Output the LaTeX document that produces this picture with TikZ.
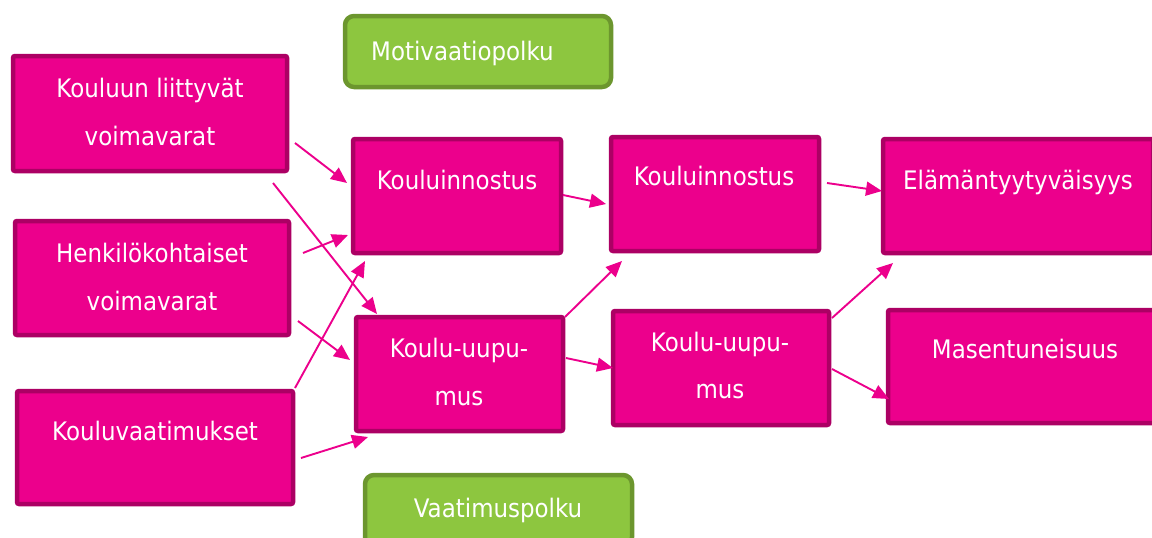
\documentclass[tikz,border=0pt]{standalone}
\usepackage{fontspec}
\setmainfont{DejaVu Sans}[FakeStretch=0.9]
\usetikzlibrary{arrows.meta}
\definecolor{pinkfill}{RGB}{236,0,140}
\definecolor{pinkedge}{RGB}{172,0,100}
\definecolor{greenfill}{RGB}{141,198,63}
\definecolor{greenedge}{RGB}{108,150,46}
\begin{document}
\begin{tikzpicture}[x=1pt,y=-1pt,
  box/.style={draw=pinkedge, fill=pinkfill, line width=4.5pt, rounded corners=2pt,
    anchor=north west, inner sep=0pt, outer sep=0pt},
  pathbox/.style={draw=greenedge, fill=greenfill, line width=4.5pt, rounded corners=9pt,
    anchor=north west, inner sep=0pt, outer sep=0pt},
  txt/.style={text=white, font=\fontsize{25.5}{30}\selectfont, anchor=base, inner sep=0pt},
  conn/.style={draw=pinkfill, line width=1.9pt, -{Triangle[length=16pt,width=14pt]}}]
\useasboundingbox (0,0) rectangle (1152,538);
\clip (0,0) rectangle (1152,538);
% path labels
\node[pathbox, minimum width=266pt, minimum height=71pt] (mot) at (345,16) {};
\node[txt, anchor=base west] (motT) at (371,60) {Motivaatiopolku};
\node[pathbox, minimum width=267pt, minimum height=71pt] (vaa) at (365,475) {};
\node[txt] (vaaT) at (498,517) {Vaatimuspolku};
% boxes
\node[box, minimum width=274pt, minimum height=115pt] (A) at (13,56) {};
\node[box, minimum width=274pt, minimum height=114pt] (B) at (15,221) {};
\node[box, minimum width=276pt, minimum height=113pt] (C) at (17,391) {};
\node[box, minimum width=208pt, minimum height=114pt] (D) at (353,139) {};
\node[box, minimum width=207pt, minimum height=114pt] (E) at (356,317) {};
\node[box, minimum width=208pt, minimum height=114pt] (F) at (611,137) {};
\node[box, minimum width=216pt, minimum height=114pt] (G) at (613,311) {};
\node[box, minimum width=270pt, minimum height=114pt] (H) at (883,139) {};
\node[box, minimum width=274pt, minimum height=113pt] (I) at (888,310) {};
% texts
\node[txt] (A1) at (150,97) {Kouluun liittyvät};
\node[txt] (A2) at (150,145) {voimavarat};
\node[txt] (B1) at (152,262) {Henkilökohtaiset};
\node[txt] (B2) at (152,310) {voimavarat};
\node[txt] (C1) at (155,440) {Kouluvaatimukset};
\node[txt] (D1) at (457,189) {Kouluinnostus};
\node[txt] (E1) at (459,357) {Koulu-uupu-};
\node[txt] (E2) at (459,405) {mus};
\node[txt] (F1) at (714,185) {Kouluinnostus};
\node[txt] (G1) at (720,351) {Koulu-uupu-};
\node[txt] (G2) at (720,398) {mus};
\node[txt] (H1) at (1018,189) {Elämäntyytyväisyys};
\node[txt] (I1) at (1025,358) {Masentuneisuus};
% connector end points
\coordinate (AD-s) at (295,143); \coordinate (AD-e) at (347,183);
\coordinate (AE-s) at (273,183); \coordinate (AE-e) at (377,314);
\coordinate (BD-s) at (303,253); \coordinate (BD-e) at (348,235);
\coordinate (BE-s) at (298,321); \coordinate (BE-e) at (350,360);
\coordinate (CD-s) at (295,388); \coordinate (CD-e) at (365,261);
\coordinate (CE-s) at (301,458); \coordinate (CE-e) at (368,437);
\coordinate (DF-s) at (563,195); \coordinate (DF-e) at (606,204);
\coordinate (EF-s) at (565,317); \coordinate (EF-e) at (622,261);
\coordinate (EG-s) at (566,358); \coordinate (EG-e) at (613,368);
\coordinate (FH-s) at (827,183); \coordinate (FH-e) at (882,191);
\coordinate (GH-s) at (832,318); \coordinate (GH-e) at (893,263);
\coordinate (GI-s) at (832,369); \coordinate (GI-e) at (889,399);
% connectors
\foreach \c in {AD,AE,BD,BE,CD,CE,DF,EF,EG,FH,GH,GI}
  \draw[conn] (\c-s) -- (\c-e);
\end{tikzpicture}
\end{document}
